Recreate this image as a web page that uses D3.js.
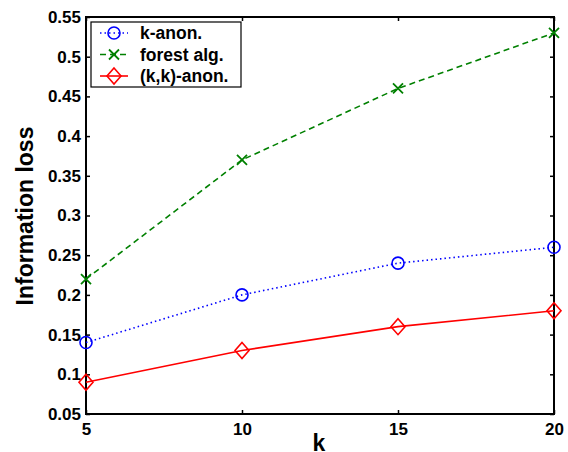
<!DOCTYPE html>
<html><head><meta charset="utf-8">
<script src="https://cdn.jsdelivr.net/npm/d3@7"></script>
<style>body{margin:0;background:#fff}svg{display:block}text{font-family:"Liberation Sans",Arial,sans-serif;font-weight:bold}</style>
</head><body>
<script>
const kValues = [5, 10, 15, 20];
const kAnon = [0.14, 0.20, 0.24, 0.26];
const forestAlg = [0.22, 0.37, 0.46, 0.53];
const kkAnon = [0.09, 0.13, 0.16, 0.18];
const yTicks = [0.05, 0.1, 0.15, 0.2, 0.25, 0.3, 0.35, 0.4, 0.45, 0.5, 0.55];
const seriesNames = ["k-anon.", "forest alg.", "(k,k)-anon."];

const W = 568, H = 452;
const L = 86, R = 554, T = 17, B = 414;
const svg = d3.select("body").append("svg").attr("width", W).attr("height", H);
const x = d3.scaleLinear().domain([5, 20]).range([L, R]);
const y = d3.scaleLinear().domain([0.05, 0.55]).range([B, T]);

const series = [
  {name: seriesNames[0], vals: kAnon, color: "#0000ff", dash: "1.5,3", marker: "circle"},
  {name: seriesNames[1], vals: forestAlg, color: "#008000", dash: "6,4", marker: "x"},
  {name: seriesNames[2], vals: kkAnon, color: "#ff0000", dash: null, marker: "diamond"}
];

const fmt = d => String(+d.toFixed(2));
svg.append("g").attr("transform", `translate(${L},0)`)
  .call(d3.axisLeft(y).tickValues(yTicks).tickFormat(fmt).tickSizeInner(-4).tickSizeOuter(0).tickPadding(5))
  .call(g => g.select(".domain").remove());
svg.append("g").attr("transform", `translate(${R},0)`)
  .call(d3.axisRight(y).tickValues(yTicks).tickFormat("").tickSizeInner(-4).tickSizeOuter(0))
  .call(g => g.select(".domain").remove());
svg.append("g").attr("transform", `translate(0,${B})`)
  .call(d3.axisBottom(x).tickValues(kValues).tickSizeInner(-4).tickSizeOuter(0).tickPadding(9))
  .call(g => g.select(".domain").remove());
svg.append("g").attr("transform", `translate(0,${T})`)
  .call(d3.axisTop(x).tickValues(kValues).tickFormat("").tickSizeInner(-4).tickSizeOuter(0))
  .call(g => g.select(".domain").remove());
svg.selectAll(".tick line").attr("stroke", "#000").attr("stroke-width", 1.5);
svg.selectAll(".tick text").attr("font-size", 17).attr("fill", "#000")
  .attr("font-family", "Liberation Sans, Arial, sans-serif").attr("font-weight", "bold");

svg.append("rect").attr("x", L).attr("y", T).attr("width", R - L).attr("height", B - T)
  .attr("fill", "none").attr("stroke", "#000").attr("stroke-width", 2);

function drawMarker(g, m, cx, cy, color) {
  if (m === "circle") g.append("circle").attr("cx", cx).attr("cy", cy).attr("r", 6)
    .attr("fill", "none").attr("stroke", color).attr("stroke-width", 1.6);
  else if (m === "x") g.append("path").attr("d", `M${cx-5},${cy-5}L${cx+5},${cy+5}M${cx-5},${cy+5}L${cx+5},${cy-5}`)
    .attr("stroke", color).attr("stroke-width", 1.8).attr("fill", "none");
  else g.append("path").attr("d", `M${cx},${cy-8}L${cx+7},${cy}L${cx},${cy+8}L${cx-7},${cy}Z`)
    .attr("fill", "none").attr("stroke", color).attr("stroke-width", 1.6);
}

series.forEach(s => {
  const g = svg.append("g");
  g.append("path").datum(s.vals)
    .attr("d", d3.line().x((d, i) => x(kValues[i])).y(d => y(d)))
    .attr("fill", "none").attr("stroke", s.color).attr("stroke-width", 1.6)
    .attr("stroke-dasharray", s.dash);
  s.vals.forEach((v, i) => drawMarker(g, s.marker, x(kValues[i]), y(v), s.color));
});

const lg = svg.append("g");
lg.append("rect").attr("x", 91).attr("y", 22).attr("width", 150).attr("height", 65)
  .attr("fill", "#fff").attr("stroke", "#000").attr("stroke-width", 1.2);
series.forEach((s, i) => {
  const cy = 33 + i * 21.5;
  lg.append("line").attr("x1", 100).attr("x2", 128).attr("y1", cy).attr("y2", cy)
    .attr("stroke", s.color).attr("stroke-width", 1.6).attr("stroke-dasharray", s.dash);
  drawMarker(lg, s.marker, 114, cy, s.color);
  lg.append("text").attr("x", 140).attr("y", cy + 6).attr("font-size", 17.5).text(s.name);
});

svg.append("text").attr("x", 319).attr("y", 451).attr("text-anchor", "middle")
  .attr("font-size", 23).text("k");
svg.append("text").attr("transform", `translate(33,216) rotate(-90)`)
  .attr("text-anchor", "middle").attr("font-size", 23).text("Information loss");
</script>
</body></html>
